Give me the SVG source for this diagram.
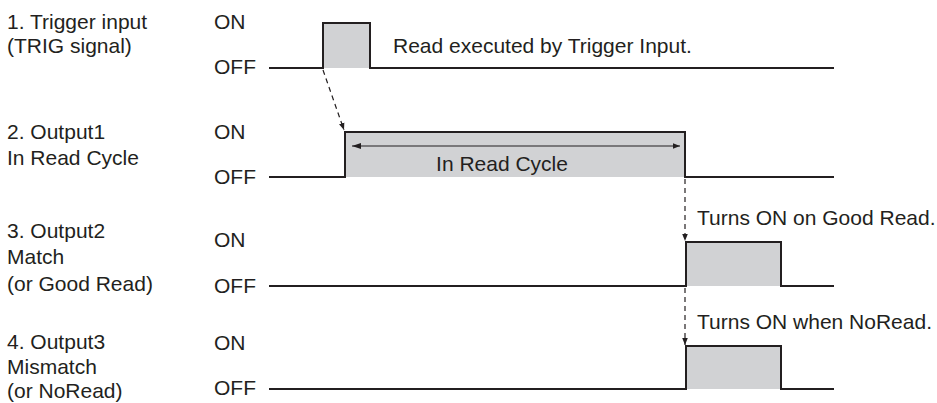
<svg xmlns="http://www.w3.org/2000/svg" width="937" height="403" viewBox="0 0 937 403">
<defs>
<style>
text{font-family:"Liberation Sans",Arial,sans-serif;font-size:21px;fill:#231f20}
.sig{fill:none;stroke:#231f20;stroke-width:2}
.pulse{fill:#d1d2d4;stroke:none}
.dash{fill:none;stroke:#231f20;stroke-width:1.2;stroke-dasharray:5,4}
.thin{fill:none;stroke:#231f20;stroke-width:1.2}
</style>
<marker id="ah" viewBox="0 0 10 10" refX="10" refY="5" markerWidth="7" markerHeight="7" orient="auto" markerUnits="userSpaceOnUse"><path d="M0,1 L10,5 L0,9 z" fill="#231f20"/></marker>
</defs>
<g id="labels">
<text x="7" y="29">1. Trigger input</text>
<text x="7" y="53">(TRIG signal)</text>
<text x="7" y="139">2. Output1</text>
<text x="7" y="165">In Read Cycle</text>
<text x="7" y="238">3. Output2</text>
<text x="7" y="264">Match</text>
<text x="7" y="291">(or Good Read)</text>
<text x="7" y="349">4. Output3</text>
<text x="7" y="374">Mismatch</text>
<text x="7" y="398">(or NoRead)</text>
<text x="214" y="29">ON</text>
<text x="214" y="74">OFF</text>
<text x="214" y="139">ON</text>
<text x="214" y="184">OFF</text>
<text x="214" y="247">ON</text>
<text x="214" y="293">OFF</text>
<text x="214" y="350">ON</text>
<text x="214" y="395">OFF</text>
</g>
<g id="signal1">
<rect class="pulse" x="323" y="23" width="47" height="45"/>
<path class="sig" d="M269,68 H323 V23 H370 V68 H834"/>
<text x="393" y="53">Read executed by Trigger Input.</text>
</g>
<g id="signal2">
<rect class="pulse" x="345" y="132" width="340" height="45"/>
<path class="sig" d="M269,177 H345 V132 H685 V177 H834"/>
<text x="502" y="171" text-anchor="middle">In Read Cycle</text>
</g>
<g id="signal3">
<rect class="pulse" x="686" y="242" width="95" height="44"/>
<path class="sig" d="M269,286 H686 V242 H781 V286 H834"/>
<text x="697" y="225">Turns ON on Good Read.</text>
</g>
<g id="signal4">
<rect class="pulse" x="686" y="346" width="95" height="43"/>
<path class="sig" d="M269,389 H686 V346 H781 V389 H834"/>
<text x="697" y="329">Turns ON when NoRead.</text>
</g>
<g id="connectors">
<line class="dash" x1="323" y1="70" x2="344" y2="130" marker-end="url(#ah)"/>
<line class="thin" x1="352" y1="146" x2="680" y2="146" marker-end="url(#ah)"/>
<path d="M352,146 l9,-3 v6 z" fill="#231f20"/>
<line class="dash" x1="685" y1="179" x2="685" y2="241" marker-end="url(#ah)"/>
<line class="dash" x1="685" y1="288" x2="685" y2="345" marker-end="url(#ah)"/>
</g>
</svg>
